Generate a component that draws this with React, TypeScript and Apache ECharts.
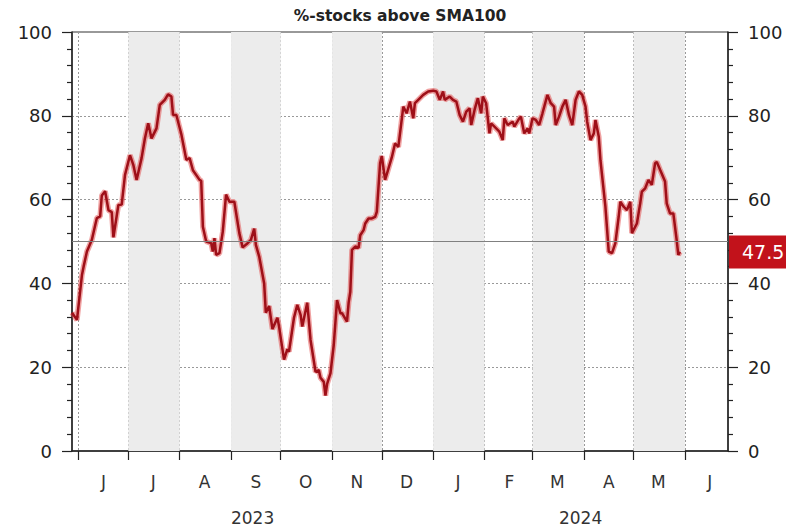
import React, { useEffect, useRef } from 'react';
import * as echarts from 'echarts';

const AXIS_START = '2023-05-28';
const AXIS_END = '2024-06-27';
const MONTH_LETTERS = ['J', 'F', 'M', 'A', 'M', 'J', 'J', 'A', 'S', 'O', 'N', 'D'];
const SHADED_MONTHS = ['2023-07', '2023-09', '2023-11', '2024-01', '2024-03', '2024-05'];
const YEARS = ['2023', '2024'];
const Y_MIN = 0;
const Y_MAX = 100;
const Y_STEP = 20;
const REF_LEVEL = 50;
const TITLE = '%-stocks above SMA100';

const pointDates = [
  '2023-05-28', '2023-05-31', '2023-06-03', '2023-06-04', '2023-06-06', '2023-06-09', '2023-06-12', '2023-06-14', '2023-06-15', '2023-06-17', '2023-06-19', '2023-06-21', '2023-06-22', '2023-06-25', '2023-06-27', '2023-06-29',
  '2023-07-02', '2023-07-04', '2023-07-06', '2023-07-09', '2023-07-11', '2023-07-13', '2023-07-15', '2023-07-18', '2023-07-20', '2023-07-23', '2023-07-25', '2023-07-27', '2023-07-28', '2023-07-30',
  '2023-08-02', '2023-08-05', '2023-08-07', '2023-08-09', '2023-08-13', '2023-08-14', '2023-08-15', '2023-08-17', '2023-08-20', '2023-08-21', '2023-08-22', '2023-08-23', '2023-08-25', '2023-08-27', '2023-08-29', '2023-08-31',
  '2023-09-03', '2023-09-06', '2023-09-08', '2023-09-11', '2023-09-13', '2023-09-15', '2023-09-16', '2023-09-18', '2023-09-21', '2023-09-22', '2023-09-24', '2023-09-26', '2023-09-29', '2023-09-30',
  '2023-10-01', '2023-10-03', '2023-10-05', '2023-10-06', '2023-10-09', '2023-10-11', '2023-10-13', '2023-10-14', '2023-10-17', '2023-10-19', '2023-10-22', '2023-10-24', '2023-10-25', '2023-10-27', '2023-10-28', '2023-10-29', '2023-10-31',
  '2023-11-02', '2023-11-04', '2023-11-06', '2023-11-07', '2023-11-10', '2023-11-11', '2023-11-12', '2023-11-13', '2023-11-15', '2023-11-17', '2023-11-18', '2023-11-20', '2023-11-21', '2023-11-23', '2023-11-25', '2023-11-27', '2023-11-28', '2023-11-30',
  '2023-12-01', '2023-12-03', '2023-12-06', '2023-12-07', '2023-12-09', '2023-12-11', '2023-12-14', '2023-12-16', '2023-12-18', '2023-12-20', '2023-12-21', '2023-12-23', '2023-12-26', '2023-12-29',
  '2024-01-01', '2024-01-03', '2024-01-05', '2024-01-07', '2024-01-08', '2024-01-11', '2024-01-13', '2024-01-15', '2024-01-17', '2024-01-19', '2024-01-21', '2024-01-23', '2024-01-24', '2024-01-26', '2024-01-28', '2024-01-30', '2024-01-31',
  '2024-02-02', '2024-02-04', '2024-02-05', '2024-02-07', '2024-02-10', '2024-02-12', '2024-02-13', '2024-02-15', '2024-02-18', '2024-02-19', '2024-02-22', '2024-02-23', '2024-02-25', '2024-02-27', '2024-02-28',
  '2024-03-01', '2024-03-03', '2024-03-05', '2024-03-07', '2024-03-10', '2024-03-12', '2024-03-14', '2024-03-15', '2024-03-17', '2024-03-19', '2024-03-21', '2024-03-23', '2024-03-25', '2024-03-27', '2024-03-29', '2024-03-31',
  '2024-04-02', '2024-04-03', '2024-04-05', '2024-04-07', '2024-04-08', '2024-04-10', '2024-04-11', '2024-04-14', '2024-04-16', '2024-04-18', '2024-04-20', '2024-04-22', '2024-04-23', '2024-04-25', '2024-04-27', '2024-04-29', '2024-04-30',
  '2024-05-03', '2024-05-05', '2024-05-06', '2024-05-08', '2024-05-10', '2024-05-12', '2024-05-14', '2024-05-15', '2024-05-17', '2024-05-20', '2024-05-21', '2024-05-23', '2024-05-25', '2024-05-27', '2024-05-28', '2024-05-29',
];

const pctAbove = [
  33, 31.3, 42, 44, 47.6, 50.4, 55.6, 56, 61, 62, 57.5, 57, 51, 58.7, 58.8, 65.9,
  70.6, 68.3, 64.7, 69.9, 74.6, 78.2, 74.6, 77, 82.6, 83.8, 85.1, 84.6, 80.2, 80.2,
  75.6, 69.5, 69.9, 67, 64.7, 64.5, 53.5, 50, 49.6, 47.6, 50.8, 46.8, 47.2, 52.3, 61.2, 59.5,
  59.5, 52, 48.6, 49.6, 50.4, 53.1, 49.2, 46.4, 40, 33, 34.6, 29.1, 31.8, 29.7,
  27, 21.8, 24.3, 23.7, 31.8, 34.9, 32.5, 29.7, 35.4, 26.5, 18.9, 19.3, 17.5, 16.5, 13.2, 16, 18.5,
  25.3, 36, 32.9, 32.9, 30.9, 35.4, 38, 48, 48.8, 48.5, 51.5, 52.7, 54.3, 55.5, 55.5, 55.9, 57.1, 68.7,
  70.4, 64.7, 68.7, 70, 73.4, 72.6, 82.2, 80.6, 83.4, 79.4, 83, 83.8, 85, 85.8,
  86, 85.8, 83.8, 85.8, 83.8, 84.6, 83.8, 83.4, 80.2, 78.6, 81, 81.8, 77.8, 81.4, 84.2, 80.6, 84.6,
  83, 75.8, 78.2, 77.4, 76.2, 74.2, 79.4, 77.8, 78.6, 77.4, 79.4, 79.8, 75.8, 77, 75.8,
  79.4, 79, 77.8, 80.6, 85, 83, 82.2, 77.8, 79.8, 82.2, 83.8, 80.2, 77.8, 83.8, 85.8, 85,
  82.2, 78.6, 74.2, 75.8, 79, 75, 69.4, 58.3, 47.6, 47.2, 49.6, 55.9, 59.5, 58.3, 57.5, 59.5, 52,
  54.3, 59.1, 61.9, 62.7, 64.7, 63.5, 68.7, 69, 67.1, 64.3, 59.1, 56.7, 56.7, 50.4, 46.8, 47.5,
];

const FONT = '"DejaVu Sans", Verdana, sans-serif';
const DAY = 86400000;

function toUTC(d: string) {
  return Date.UTC(+d.slice(0, 4), +d.slice(5, 7) - 1, +d.slice(8, 10));
}
function fmt(t: number) {
  return new Date(t).toISOString().slice(0, 10);
}
function dayIndex(d: string) {
  return Math.round((toUTC(d) - toUTC(AXIS_START)) / DAY);
}
function nextMonth(m: string) {
  let y = +m.slice(0, 4);
  let mo = +m.slice(5, 7) + 1;
  if (mo > 12) { mo = 1; y += 1; }
  return `${y}-${String(mo).padStart(2, '0')}`;
}

const axisDays: string[] = [];
for (let t = toUTC(AXIS_START); t <= toUTC(AXIS_END); t += DAY) axisDays.push(fmt(t));

export default function App() {
  const ref = useRef<HTMLDivElement>(null);

  useEffect(() => {
    if (!ref.current) return;
    const chart = echarts.init(ref.current, null, { renderer: 'svg' });

    const seriesData = pointDates.map((d, i) => [dayIndex(d), pctAbove[i]]);
    const lastValue = pctAbove[pctAbove.length - 1];

    const yearMid = YEARS.map((y) => {
      const idx = axisDays.map((d, i) => (d.startsWith(y) ? i : -1)).filter((i) => i >= 0);
      return Math.round((idx[0] + idx[idx.length - 1]) / 2);
    });

    const isMonthStart = (_i: number, v: string) => v.endsWith('-01');
    const isMidMonth = (_i: number, v: string) => v.endsWith('-16');

    const bands = SHADED_MONTHS.map((m) => {
      const s = `${m}-01`;
      const e = `${nextMonth(m)}-01`;
      return [{ xAxis: dayIndex(s) }, { xAxis: Math.min(dayIndex(e), axisDays.length - 1) }];
    });

    const yAxisCommon = {
      type: 'value',
      min: Y_MIN,
      max: Y_MAX,
      interval: Y_STEP,
      axisLine: { show: true, lineStyle: { color: '#222', width: 1.5 } },
      axisTick: { show: true, length: 10, lineStyle: { color: '#222', width: 1.2 } },
      minorTick: { show: true, splitNumber: 5, length: 5, lineStyle: { color: '#222', width: 1.2 } },
      axisLabel: { margin: 20, fontSize: 18, color: '#222', fontFamily: FONT },
    };

    chart.setOption({
      animation: false,
      textStyle: { fontFamily: FONT },
      grid: {
        left: 72,
        right: 58,
        top: 32,
        bottom: 81,
        show: true,
        borderColor: '#333',
        borderWidth: 1,
        backgroundColor: 'transparent',
      },
      graphic: [
        {
          type: 'text',
          x: 400,
          y: 16,
          style: {
            text: TITLE,
            align: 'center',
            verticalAlign: 'middle',
            font: `bold 15.5px ${FONT}`,
            fill: '#222',
          },
        },
      ],
      xAxis: [
        {
          type: 'category',
          data: axisDays,
          boundaryGap: false,
          position: 'bottom',
          axisLine: { show: true, lineStyle: { color: '#222', width: 1.5 } },
          axisTick: { show: true, interval: isMonthStart, length: 9, lineStyle: { color: '#222', width: 1.2 } },
          axisLabel: {
            interval: isMidMonth,
            formatter: (v: string) => MONTH_LETTERS[+v.slice(5, 7) - 1],
            fontSize: 17,
            color: '#333',
            margin: 22,
          },
          splitLine: { show: true, interval: isMonthStart, lineStyle: { color: '#999', type: [2, 2], width: 1 } },
        },
        {
          type: 'category',
          data: axisDays,
          boundaryGap: false,
          position: 'bottom',
          offset: 35,
          axisLine: { show: false },
          axisTick: { show: false },
          splitLine: { show: false },
          axisLabel: {
            interval: (i: number) => yearMid.includes(i),
            formatter: (v: string) => v.slice(0, 4),
            fontSize: 17,
            color: '#333',
            margin: 23,
          },
        },
      ],
      yAxis: [
        {
          ...yAxisCommon,
          position: 'left',
          splitLine: { show: true, lineStyle: { color: '#999', type: [2, 2], width: 1 } },
        },
        {
          ...yAxisCommon,
          position: 'right',
          splitLine: { show: false },
        },
      ],
      series: [
        {
          name: 'bands',
          type: 'line',
          z: -1,
          data: [],
          silent: true,
          markArea: {
            silent: true,
            itemStyle: { color: '#ececec' },
            data: bands,
          },
        },
        {
          name: 'glow',
          type: 'line',
          data: seriesData,
          symbol: 'none',
          silent: true,
          lineStyle: { color: 'rgba(225,70,70,0.5)', width: 5.5 },
          markLine: {
            silent: true,
            symbol: ['none', 'none'],
            data: [
              {
                yAxis: REF_LEVEL,
                lineStyle: { color: '#808080', width: 1, type: 'solid' },
                label: { show: false },
              },
            ],
          },
        },
        {
          name: 'pct',
          type: 'line',
          data: seriesData,
          symbol: 'none',
          silent: true,
          lineStyle: { color: '#9e0f18', width: 2.5 },
          markLine: {
            silent: true,
            symbol: ['none', 'none'],
            data: [
              {
                yAxis: lastValue,
                lineStyle: { color: 'rgba(0,0,0,0)', width: 0 },
                label: {
                  show: true,
                  position: 'end',
                  distance: 1,
                  formatter: String(lastValue),
                  color: '#fff',
                  fontSize: 19,
                  fontFamily: FONT,
                  backgroundColor: '#c2121b',
                  padding: [7, 12, 7, 13],
                },
              },
            ],
          },
        },
      ],
    });

    return () => chart.dispose();
  }, []);

  return (
    <div
      ref={ref}
      style={{ position: 'fixed', left: 0, top: 0, width: 786, height: 532, background: '#fff' }}
    />
  );
}
